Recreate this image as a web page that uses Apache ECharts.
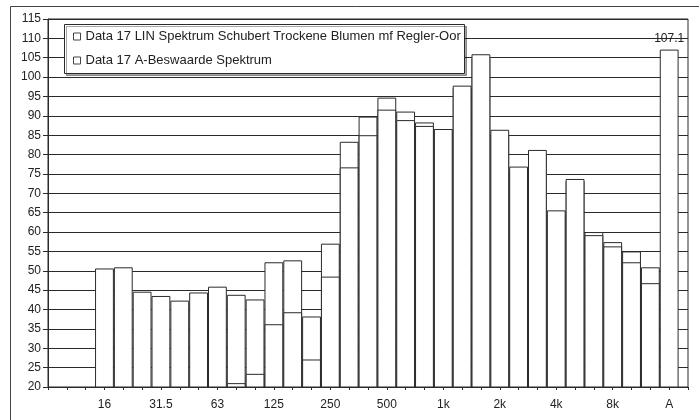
<!DOCTYPE html>
<html>
<head>
<meta charset="utf-8">
<script src="https://cdn.jsdelivr.net/npm/echarts@6/dist/echarts.min.js"></script>
<style>
html,body{margin:0;padding:0;background:#fff;}
#c{width:699px;height:420px;}
</style>
</head>
<body>
<div id="c"></div>
<script>
// 1/3-octave bands + overall A level
var bands = ['16','20','25','31.5','40','50','63','80','100','125','160','200','250','315','400','500','630','800','1k','1.25k','1.6k','2k','2.5k','3.15k','4k','5k','6.3k','8k','10k','12.5k','A'];
var linValues = [50.6, 50.9, 44.6, 43.5, 42.3, 44.4, 45.9, 43.8, 42.6, 52.2, 52.7, 38.2, 57.0, 83.3, 89.8, 94.7, 91.1, 88.3, 86.6, 97.2, 104.9, 85.2, 75.6, 80.0, 64.6, 73.2, 60.0, 57.4, 55.0, 50.9, null];
var aValues   = [null, null, null, null, null, null, null, 21.0, 23.4, 36.2, 39.3, 27.1, 48.5, 76.7, 85.0, 91.6, 88.9, 87.4, 86.6, 97.8, 105.9, 86.4, 76.9, 81.2, 65.6, 73.7, 59.2, 56.3, 52.2, 46.8, 107.1];
var leadingEmpty = 3;
var trailingEmpty = 1;
var yTicks = {min: 20, max: 115, step: 5};
var seriesNames = ['Data 17 LIN Spektrum Schubert Trockene Blumen mf Regler-Oor', 'Data 17 A-Beswaarde Spektrum'];

function pad(arr, blank) {
  var out = [];
  for (var i = 0; i < leadingEmpty; i++) out.push(blank);
  arr.forEach(function (v) { out.push(v == null ? blank : v); });
  for (var j = 0; j < trailingEmpty; j++) out.push(blank);
  return out;
}
var categories = pad(bands, '');
var linData = pad(linValues, '-');
var aData = pad(aValues, '-');

var FONT = 'Liberation Sans, Arial, sans-serif';
var LINE = '#2a2a2a';
var chart = echarts.init(document.getElementById('c'), null, {renderer: 'canvas'});
chart.setOption({
  animation: false,
  backgroundColor: '#fff',
  textStyle: {fontFamily: FONT},
  grid: {left: 48, top: 19, width: 640, height: 368, show: true, borderColor: LINE, borderWidth: 1, backgroundColor: 'transparent'},
  graphic: [
    {type: 'rect', z: 0, silent: true, shape: {x: 10.5, y: 6.5, width: 720, height: 440}, style: {fill: 'none', stroke: '#444', lineWidth: 1}},
    {type: 'rect', z: 100, zlevel: 0, silent: true, shape: {x: 64.5, y: 24.5, width: 400, height: 49}, style: {fill: '#fff', stroke: LINE, lineWidth: 1, shadowColor: 'rgba(0,0,0,0.35)', shadowOffsetX: 2, shadowOffsetY: 2, shadowBlur: 0}}
  ],
  legend: {
    orient: 'vertical', left: 64, top: 24, z: 200,
    padding: [6, 8, 6, 9], itemGap: 11,
    icon: 'rect', itemWidth: 7, itemHeight: 7,
    itemStyle: {color: '#fff', borderColor: '#444', borderWidth: 1},
    textStyle: {fontSize: 13, color: '#222', fontFamily: FONT},
    data: seriesNames
  },
  xAxis: {
    type: 'category', data: categories, boundaryGap: false,
    axisLine: {show: true, lineStyle: {color: LINE, width: 1}},
    axisTick: {show: true, interval: 0, length: 3, lineStyle: {color: LINE}},
    axisLabel: {interval: 2, margin: 12, fontSize: 12, color: '#222', fontFamily: FONT},
    splitLine: {show: false}
  },
  yAxis: {
    type: 'value', min: yTicks.min, max: yTicks.max, interval: yTicks.step,
    axisLine: {show: true, lineStyle: {color: LINE, width: 1}},
    axisTick: {show: true, length: 5, lineStyle: {color: LINE}},
    axisLabel: {margin: 7, fontSize: 12, color: '#222', fontFamily: FONT},
    splitLine: {show: true, lineStyle: {color: LINE, width: 1}}
  },
  series: [
    {
      name: seriesNames[0], type: 'bar', data: linData,
      barWidth: '100%', barGap: '-100%',
      itemStyle: {color: '#fff', borderColor: LINE, borderWidth: 1}
    },
    {
      name: seriesNames[1], type: 'bar', data: aData,
      barWidth: '100%', barGap: '-100%',
      itemStyle: {color: '#fff', borderColor: LINE, borderWidth: 1},
      label: {show: true, position: 'top', distance: 5, fontSize: 12, color: '#222', fontFamily: FONT,
        formatter: function (p) { return p.name === 'A' ? String(p.value) : ''; }}
    }
  ]
});
</script>
</body>
</html>
